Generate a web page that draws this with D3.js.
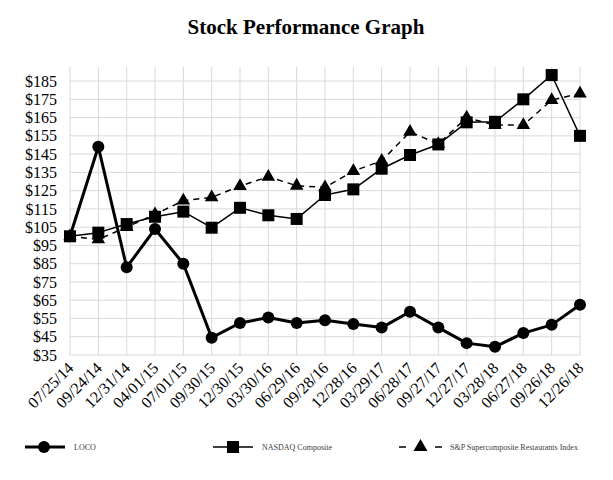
<!DOCTYPE html>
<html>
<head>
<meta charset="utf-8">
<script src="https://cdn.jsdelivr.net/npm/d3@7"></script>
<style>
  html, body { margin: 0; padding: 0; background: #fff; }
  svg { display: block; }
</style>
</head>
<body>
<script>
const dates = ["07/25/14","09/24/14","12/31/14","04/01/15","07/01/15","09/30/15","12/30/15","03/30/16","06/29/16","09/28/16","12/28/16","03/29/17","06/28/17","09/27/17","12/27/17","03/28/18","06/27/18","09/26/18","12/26/18"];
const loco = [100,149,83,104,85,44.5,52.5,55.5,52.5,54,52,50,58.7,50,41.5,39.5,47,51.5,62.5];
const nasdaq = [100,102,106.7,110.7,113.5,104.7,115.6,111.5,109.5,122.6,125.7,137,144.5,150.3,162.4,162.7,175,188.3,155];
const snp = [100,98.3,105,112,119.5,121.3,127.5,132.6,127.7,126.8,135.7,141.3,157.2,150.5,165,160.9,160.9,174.6,178.2];
const yTicks = [35,45,55,65,75,85,95,105,115,125,135,145,155,165,175,185];
const seriesNames = ["LOCO","NASDAQ Composite","S&P Supercomposite Restaurants Index"];

const FONT = "Liberation Serif";
const W = 613, H = 480;
const svg = d3.select("body").append("svg").attr("width", W).attr("height", H)
  .attr("font-family", FONT);

const x = d3.scalePoint().domain(dates).range([70, 580]);
const y = d3.scaleLinear().domain([35, 192.7]).range([355, 67]);

// title
svg.append("text").attr("x", 306).attr("y", 34).attr("text-anchor", "middle")
  .attr("font-family", FONT).attr("font-size", 21).attr("font-weight", "bold")
  .text("Stock Performance Graph");

// grid
const grid = svg.append("g");
grid.selectAll("line.h").data(yTicks).join("line")
  .attr("x1", 70).attr("x2", 580).attr("y1", d => y(d)).attr("y2", d => y(d))
  .attr("stroke", "#d9d9d9").attr("stroke-width", 1);
grid.selectAll("line.v").data(dates).join("line")
  .attr("x1", d => x(d)).attr("x2", d => x(d)).attr("y1", y(192.7)).attr("y2", y(35))
  .attr("stroke", "#d9d9d9").attr("stroke-width", 1);

// y axis labels
const yAxis = d3.axisLeft(y).tickValues(yTicks).tickFormat(d => "$" + d).tickSize(0).tickPadding(13);
const ya = svg.append("g").attr("transform", "translate(70,0)").call(yAxis)
  .attr("font-family", FONT).attr("font-size", 16);
ya.select(".domain").remove();
ya.selectAll("text").attr("fill", "#000");

// x axis labels
const xAxis = d3.axisBottom(x).tickSize(0).tickPadding(0);
const xa = svg.append("g").attr("transform", "translate(0,355)").call(xAxis)
  .attr("font-family", FONT).attr("font-size", 16);
xa.select(".domain").remove();
xa.selectAll("text")
  .attr("fill", "#000")
  .attr("text-anchor", "end").attr("dy", "0").attr("y", 0)
  .attr("transform", "translate(4,14) rotate(-45)");

// series
function drawLine(vals, width, dash) {
  const line = d3.line().x((d, i) => x(dates[i])).y(d => y(d));
  svg.append("path").datum(vals).attr("d", line).attr("fill", "none")
    .attr("stroke", "#000").attr("stroke-width", width)
    .attr("stroke-dasharray", dash || null).attr("stroke-linejoin", "round");
}
const sym = {
  circle: d3.symbol().type(d3.symbolCircle).size(Math.PI * 36),
  square: d3.symbol().type(d3.symbolSquare).size(144),
  triangle: d3.symbol().type(d3.symbolTriangle).size(80),
  triangleLeg: d3.symbol().type(d3.symbolTriangle).size(85)
};
function drawMarkers(vals, s) {
  svg.append("g").selectAll("path").data(vals).join("path")
    .attr("d", sym[s]).attr("fill", "#000")
    .attr("transform", (d, i) => `translate(${x(dates[i])},${y(d)})`);
}

drawLine(loco, 3);
drawMarkers(loco, "circle");
drawLine(snp, 1.5, "6,5");
drawMarkers(snp, "triangle");
drawLine(nasdaq, 1.5);
drawMarkers(nasdaq, "square");

// legend
const legY = 447;
const leg = [
  {x1: 25, x2: 65, mx: 44, tx: 74, s: "circle", w: 3, dash: null},
  {x1: 213, x2: 253, mx: 233, tx: 262, s: "square", w: 1.5, dash: null},
  {x1: 399, x2: 442, mx: 420.5, tx: 450, s: "triangleLeg", w: 1.5, dash: "7,29"}
];
leg.forEach((l, i) => {
  svg.append("line").attr("x1", l.x1).attr("x2", l.x2).attr("y1", legY).attr("y2", legY)
    .attr("stroke", "#000").attr("stroke-width", l.w).attr("stroke-dasharray", l.dash);
  svg.append("path").attr("d", sym[l.s]).attr("fill", "#000")
    .attr("transform", `translate(${l.mx},${legY})`);
  svg.append("text").attr("x", l.tx).attr("y", legY + 3)
    .attr("font-family", FONT).attr("font-size", 8)
    .attr("fill", "#404040").text(seriesNames[i]);
});
</script>
</body>
</html>
